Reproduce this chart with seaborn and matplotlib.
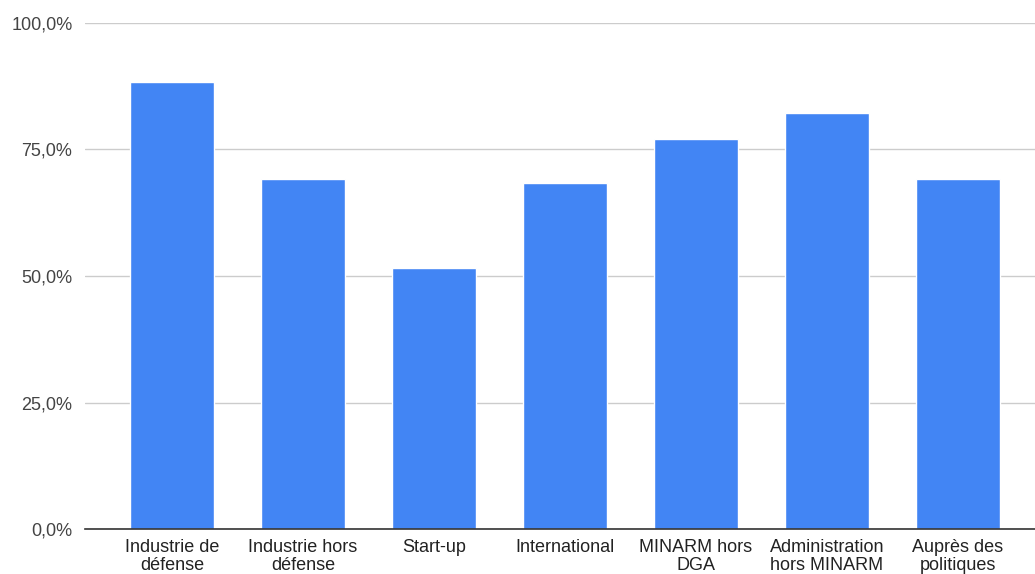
import matplotlib
matplotlib.use("Agg")
import matplotlib.pyplot as plt
import matplotlib.ticker as mticker
import seaborn as sns
import pandas as pd

categories = [
    "Industrie de\ndéfense",
    "Industrie hors\ndéfense",
    "Start-up",
    "International",
    "MINARM hors\nDGA",
    "Administration\nhors MINARM",
    "Auprès des\npolitiques",
]
values = [88.4, 69.2, 51.5, 68.3, 77.1, 82.2, 69.2]
y_ticks = [0, 25, 50, 75, 100]

BLUE = "#4285F4"

sns.set_theme(style="white")
plt.rcParams["font.family"] = ["Liberation Sans", "DejaVu Sans"]

df = pd.DataFrame({"categorie": categories, "valeur": values})

fig = plt.figure(figsize=(10.35, 5.74), dpi=100)
ax = fig.add_axes([85 / 1035, 45 / 574, 1 - 85 / 1035, 506 / 574])

sns.barplot(data=df, x="categorie", y="valeur", color=BLUE, saturation=1,
            width=0.64, ax=ax, zorder=3)

ax.set_xlim(-0.664, 6.588)
ax.set_ylim(0, 100)
ax.set_yticks(y_ticks)
ax.yaxis.set_major_formatter(
    mticker.FuncFormatter(lambda v, pos: f"{v:.1f}".replace(".", ",") + "%"))
ax.grid(axis="y", color="#cccccc", linewidth=1, zorder=0)
ax.set_xlabel("")
ax.set_ylabel("")

for side in ["top", "right", "left"]:
    ax.spines[side].set_visible(False)
ax.spines["bottom"].set_color("#333333")
ax.spines["bottom"].set_linewidth(1.2)
ax.spines["bottom"].set_zorder(4)

ax.tick_params(axis="x", length=0, pad=7, labelsize=13, colors="#222222")
ax.tick_params(axis="y", length=0, pad=9, labelsize=13, colors="#444444")
for lbl in ax.get_xticklabels():
    lbl.set_linespacing(1.1)

fig.savefig("out.png", dpi=100)
